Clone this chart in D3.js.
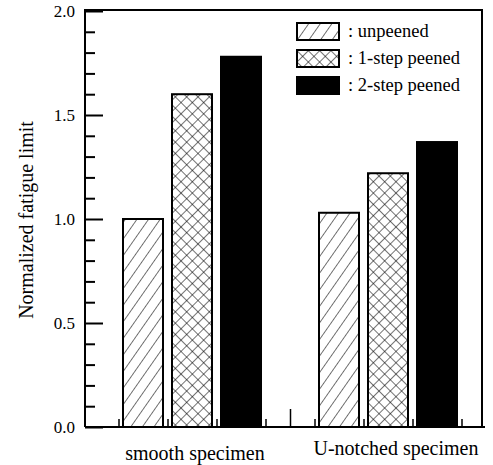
<!DOCTYPE html>
<html><head><meta charset="utf-8">
<script src="https://cdn.jsdelivr.net/npm/d3@7"></script>
<style>body{margin:0;background:#fff}svg{display:block}text{font-family:"Liberation Serif","Times New Roman",serif;fill:#000}</style>
</head><body>
<script>
const groups = ["smooth specimen", "U-notched specimen"];
const series = [": unpeened", ": 1-step peened", ": 2-step peened"];
const smoothValues = [1.00, 1.60, 1.78];
const notchedValues = [1.03, 1.22, 1.37];
const yTicks = [0.0, 0.5, 1.0, 1.5, 2.0];
const yTickLabels = ["0.0", "0.5", "1.0", "1.5", "2.0"];
const yTitle = "Normalized fatigue limit";

(function () {
const W = 493, H = 465;
const svg = d3.select("body").append("svg").attr("width", W).attr("height", H);
const defs = svg.append("defs");
const hatch = defs.append("pattern").attr("id","hatch").attr("patternUnits","userSpaceOnUse")
  .attr("width",9.5).attr("height",9.5).attr("patternTransform","rotate(35)");
hatch.append("rect").attr("width",9.5).attr("height",9.5).attr("fill","#fff");
hatch.append("line").attr("x1",0).attr("y1",0).attr("x2",0).attr("y2",9.5).attr("stroke","#000").attr("stroke-width",1.1);
const cross = defs.append("pattern").attr("id","cross").attr("patternUnits","userSpaceOnUse")
  .attr("width",8).attr("height",8).attr("patternTransform","rotate(45)");
cross.append("rect").attr("width",8).attr("height",8).attr("fill","#fff");
cross.append("line").attr("x1",0).attr("y1",0).attr("x2",0).attr("y2",8).attr("stroke","#000").attr("stroke-width",1.1);
cross.append("line").attr("x1",0).attr("y1",0).attr("x2",8).attr("y2",0).attr("stroke","#000").attr("stroke-width",1.1);
const fills = ["url(#hatch)", "url(#cross)", "#000"];

const mL = 85, mR = 482, mT = 11, mB = 427;
const y = d3.scaleLinear().domain([0, 2]).range([mB, mT]);
const x = d3.scaleLinear().domain([-0.5, 6.5]).range([118.5, 461.5]);
const barW = 40;

// frame
svg.append("path").attr("d", `M${mL},${mB}V${mT-1}H${mR}V${mB}`).attr("fill","none").attr("stroke","#000").attr("stroke-width",2);
svg.append("line").attr("x1",mL).attr("x2",mR+3).attr("y1",mB).attr("y2",mB).attr("stroke","#000").attr("stroke-width",2);

// y axis ticks (inward)
const yAxis = d3.axisRight(y).tickValues(d3.range(0, 2.0001, 0.1)).tickSize(10).tickFormat("");
const ya = svg.append("g").attr("transform", `translate(${mL},0)`).call(yAxis);
ya.select(".domain").remove();
ya.selectAll(".tick line").attr("stroke-width",2)
  .attr("x2", d => (Math.abs(d*2 - Math.round(d*2)) < 1e-6) ? 18 : 10);
svg.append("g").selectAll("text").data(yTicks).join("text")
  .attr("x", 75).attr("y", d => y(d)).attr("dy","0.35em").attr("text-anchor","end")
  .attr("font-size",17).text((d,i)=>yTickLabels[i]);

// x axis ticks (upward)
const xAxis = d3.axisTop(x).tickValues(d3.range(-0.5, 6.51, 0.5)).tickSize(8).tickFormat("");
const xa = svg.append("g").attr("transform", `translate(0,${mB})`).call(xAxis);
xa.select(".domain").remove();
xa.selectAll(".tick line").attr("stroke-width",1.5)
  .attr("y2", d => Number.isInteger(d) ? -18 : -8);

// bars
const data = [];
[smoothValues, notchedValues].forEach((vals, g) => vals.forEach((v, k) => data.push({g, k, v, slot: g*4 + k})));
svg.append("g").selectAll("rect").data(data).join("rect")
  .attr("x", d => x(d.slot) - barW/2).attr("width", barW)
  .attr("y", d => y(d.v)).attr("height", d => y(0) - y(d.v))
  .attr("fill", d => fills[d.k]).attr("stroke","#000").attr("stroke-width",2);

// group labels
svg.append("g").selectAll("text").data(groups).join("text")
  .attr("x", (d,i) => i === 0 ? 195 : 396).attr("y", (d,i) => i === 0 ? 460 : 455)
  .attr("text-anchor","middle").attr("font-size",20).text(d => d);

// y title
svg.append("text").attr("transform","translate(33,220) rotate(-90)").attr("text-anchor","middle")
  .attr("font-size",20).text(yTitle);

// legend
const lg = svg.append("g").selectAll("g").data(series).join("g")
  .attr("transform", (d,i) => `translate(297,${23 + i*27})`);
lg.append("rect").attr("width",42).attr("height",17).attr("fill",(d,i)=>fills[i]).attr("stroke","#000").attr("stroke-width",2);
lg.append("text").attr("x",51).attr("y",14).attr("font-size",18.5).text(d => d);
})();
</script>
</body></html>
